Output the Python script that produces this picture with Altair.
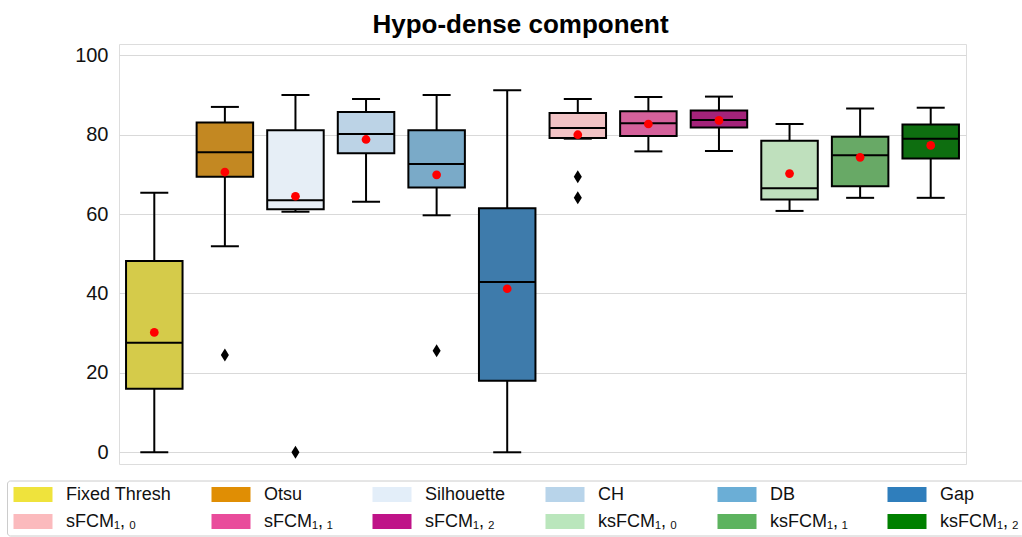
import altair as alt
import pandas as pd

methods = ["Fixed Thresh", "Otsu", "Silhouette", "CH", "DB", "Gap",
           "sFCM\u2081,\u2009\u2080", "sFCM\u2081,\u2009\u2081", "sFCM\u2081,\u2009\u2082",
           "ksFCM\u2081,\u2009\u2080", "ksFCM\u2081,\u2009\u2081", "ksFCM\u2081,\u2009\u2082"]

whisker_lo = [0.0, 51.9, 60.6, 63.1, 59.7, 0.0, 79.0, 75.8, 75.9, 60.8, 64.1, 64.1]
q1 = [16.0, 69.4, 61.2, 75.3, 66.7, 18.0, 79.2, 79.7, 81.8, 63.7, 67.0, 74.0]
median = [27.6, 75.6, 63.5, 80.2, 72.6, 42.9, 81.7, 82.9, 83.7, 66.5, 74.8, 79.0]
q3 = [48.2, 83.1, 81.1, 85.7, 81.1, 61.5, 85.5, 85.9, 86.1, 78.5, 79.5, 82.6]
whisker_hi = [65.4, 87.0, 90.0, 89.0, 90.0, 91.2, 89.0, 89.5, 89.6, 82.7, 86.6, 86.8]
means = [30.2, 70.6, 64.5, 78.8, 69.9, 41.2, 80.0, 82.7, 83.6, 70.2, 74.3, 77.3]

outlier_method = ["Otsu", "Silhouette", "DB",
                  "sFCM\u2081,\u2009\u2080", "sFCM\u2081,\u2009\u2080"]
outlier_value = [24.5, 0.0, 25.6, 69.4, 64.1]

legend_colors = ["#EFE33C", "#E08E04", "#E3EEF9", "#B8D4EA", "#6BAED6", "#2F7EBC",
                 "#FBBABD", "#E94C9B", "#BF1388", "#BAE6BC", "#5DB35F", "#008000"]
box_colors = ["#D5CB4A", "#C38822", "#E6EEF6", "#BCD3E6", "#7AAAC8", "#3E7BAB",
              "#F2C3C5", "#D5619B", "#A4237A", "#BFE0BD", "#68A966", "#0E6E10"]

df = pd.DataFrame({
    "method": methods, "lo": whisker_lo, "q1": q1, "med": median,
    "q3": q3, "hi": whisker_hi, "mean": means, "box_color": box_colors,
})
out_df = pd.DataFrame({"method": outlier_method, "value": outlier_value})

FONT = "Liberation Sans"
x_enc = alt.X("method:N", scale=alt.Scale(domain=methods, paddingInner=0, paddingOuter=0),
              axis=None)
y_scale = alt.Scale(domain=[-2.95, 102.85], nice=False, zero=False)
y_axis = alt.Axis(values=[0, 20, 40, 60, 80, 100], grid=True, ticks=False, domain=False,
                  labelFontSize=20, labelPadding=11, title=None, labelColor="#111111",
                  labelFont=FONT, gridColor="#d9d9d9", gridWidth=1.2)


def Y(field):
    return alt.Y(field, scale=y_scale, axis=y_axis, title=None)


base = alt.Chart(df).encode(x=x_enc)

w_lo = base.mark_rule(color="black", strokeWidth=2).encode(y=Y("lo:Q"), y2="q1:Q")
w_hi = base.mark_rule(color="black", strokeWidth=2).encode(y=Y("q3:Q"), y2="hi:Q")
boxes = base.mark_bar(width=56.5, stroke="black", strokeWidth=2).encode(
    y=Y("q1:Q"), y2="q3:Q", fill=alt.Fill("box_color:N", scale=None))
meds = base.mark_tick(color="black", size=56.5, thickness=2, opacity=1).encode(y=Y("med:Q"))
cap_lo = base.mark_tick(color="black", size=28, thickness=2, opacity=1).encode(y=Y("lo:Q"))
cap_hi = base.mark_tick(color="black", size=28, thickness=2, opacity=1).encode(y=Y("hi:Q"))
fliers = alt.Chart(out_df).mark_point(
    shape="M0,-1L0.62,0L0,1L-0.62,0Z", filled=True, color="black", size=169, opacity=1
).encode(x=x_enc, y=Y("value:Q"))
mean_pts = base.mark_circle(color="red", size=76, opacity=1).encode(y=Y("mean:Q"))

legend_layer = base.mark_point(opacity=0, filled=True).encode(
    y=Y("mean:Q"),
    color=alt.Color("method:N", scale=alt.Scale(domain=methods, range=legend_colors),
                    legend=alt.Legend(
                        title=None, orient="none", legendX=-112, legendY=436.5,
                        direction="horizontal", columns=6, columnPadding=38, rowPadding=9,
                        symbolType="M-2.6,-1L2.6,-1L2.6,1L-2.6,1Z", symbolSize=225,
                        symbolOffset=12, symbolStrokeWidth=0, symbolOpacity=1,
                        labelOffset=24, labelFontSize=18, labelFont=FONT, labelLimit=400,
                        labelColor="#111111", strokeColor="#cccccc", padding=5,
                        cornerRadius=3, fillColor="white")),
)

chart = alt.layer(w_lo, w_hi, boxes, meds, cap_lo, cap_hi, fliers, mean_pts, legend_layer).properties(
    width=847, height=420,
    autosize=alt.AutoSizeParams(type="none"),
    padding={"left": 119, "top": 44, "right": 56, "bottom": 73},
    title=alt.TitleParams("Hypo-dense component", fontSize=26, fontWeight="bold", font=FONT,
                          anchor="middle", dx=-22, dy=27, baseline="alphabetic", offset=12,
                          color="black"),
).configure_view(stroke="#cccccc", strokeWidth=2).configure(background="white")

chart.save("out.html", embed_options={"renderer": "svg", "actions": False})
